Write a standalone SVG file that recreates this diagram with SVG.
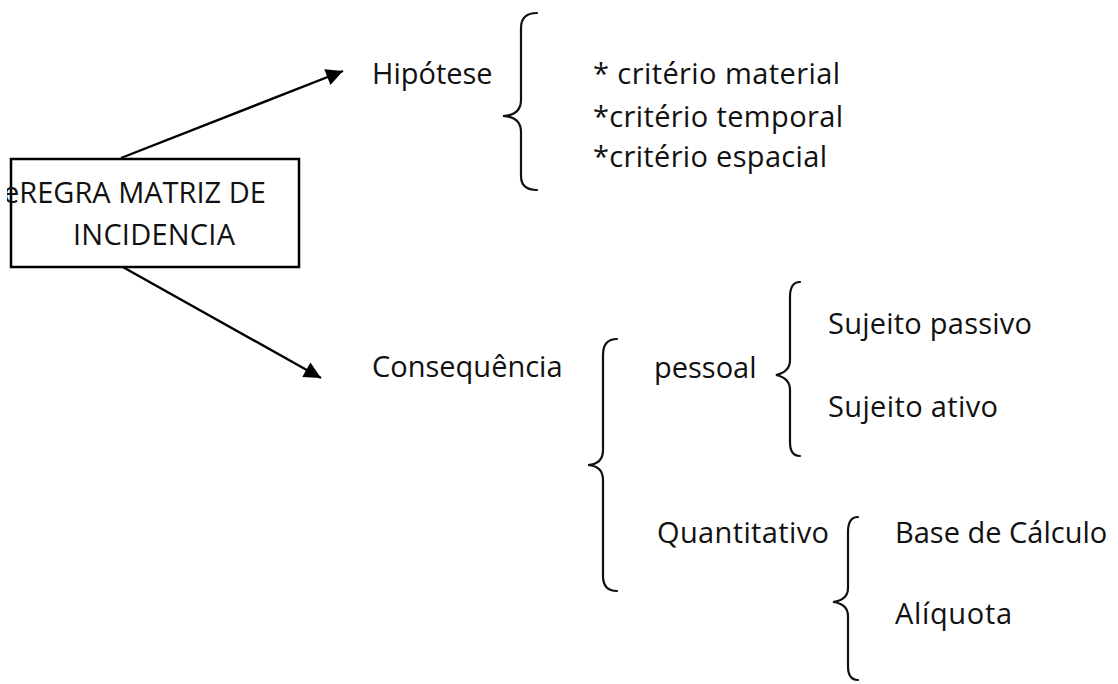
<svg xmlns="http://www.w3.org/2000/svg" width="1118" height="684" viewBox="0 0 1118 684">
<style>
text{font-family:"Open Sans","Noto Sans","Liberation Sans",sans-serif;font-size:29px;fill:#111}
.br{fill:none;stroke:#111;stroke-width:2.2;stroke-linecap:round}
.cn{fill:none;stroke:#000;stroke-width:2.4}
</style>
<defs>
<marker id="ah" viewBox="0 0 10 10" refX="10" refY="5" markerWidth="8" markerHeight="7" markerUnits="strokeWidth" orient="auto">
<path d="M0,0 L10,5 L0,10 Z" fill="#000"/>
</marker>
<clipPath id="boxclip"><rect x="7" y="150" width="300" height="130"/></clipPath>
</defs>
<rect width="1118" height="684" fill="#fff"/>
<g id="connectors">
<line class="cn" x1="121" y1="158" x2="343" y2="71" marker-end="url(#ah)"/>
<line class="cn" x1="121" y1="266" x2="321" y2="378" marker-end="url(#ah)"/>
</g>
<g id="regra">
<rect x="11" y="159" width="288" height="108" fill="#fff" stroke="#000" stroke-width="2.5"/>
<text x="3" y="203" clip-path="url(#boxclip)">eREGRA MATRIZ DE</text>
<text x="73" y="245" textLength="162">INCIDENCIA</text>
</g>
<g id="hipotese">
<text x="372" y="84">Hipótese</text>
<path class="br" d="M537,13 Q521,13 521,28 L521,100 Q521,115 503,116 Q521,117 521,132 L521,176 Q521,190 537,190"/>
<text x="593" y="84" textLength="247">* critério material</text>
<text x="593" y="127" textLength="250">*critério temporal</text>
<text x="593" y="167" textLength="234">*critério espacial</text>
</g>
<g id="consequencia">
<text x="372" y="377">Consequência</text>
<path class="br" d="M617,339 Q603,339 603,355 L603,450 Q603,464 588,465 Q603,466 603,480 L603,576 Q603,591 617,591"/>
</g>
<g id="pessoal">
<text x="654" y="378">pessoal</text>
<path class="br" d="M800,282 Q790,282 790,297 L790,360 Q790,372 776,375 Q790,378 790,390 L790,442 Q790,456 800,456"/>
<text x="828" y="334" textLength="204">Sujeito passivo</text>
<text x="828" y="417" textLength="170">Sujeito ativo</text>
</g>
<g id="quantitativo">
<text x="657" y="543" textLength="172">Quantitativo</text>
<path class="br" d="M858,517 Q848,517 848,532 L848,588 Q848,600 833,602 Q848,604 848,616 L848,666 Q848,680 858,680"/>
<text x="895" y="543">Base de Cálculo</text>
<text x="895" y="624" textLength="117">Alíquota</text>
</g>
</svg>
